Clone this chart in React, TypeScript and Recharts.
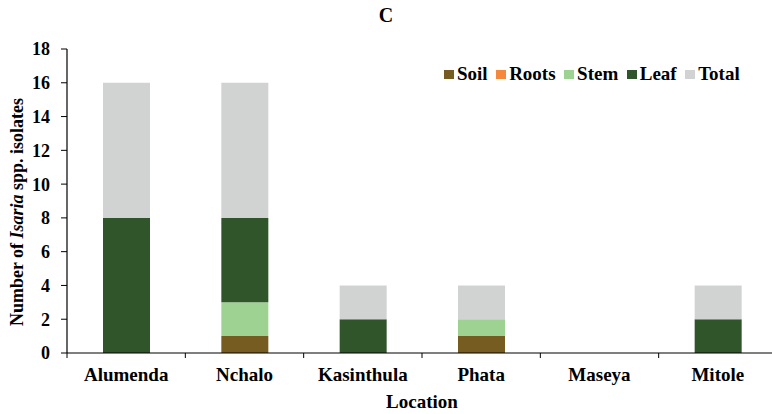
import React from "react";
import { BarChart, Bar, XAxis, YAxis, Legend } from "recharts";

const locations = ["Alumenda", "Nchalo", "Kasinthula", "Phata", "Maseya", "Mitole"];
const soil = [0, 1, 0, 1, 0, 0];
const roots = [0, 0, 0, 0, 0, 0];
const stem = [0, 2, 0, 1, 0, 0];
const leaf = [8, 5, 2, 0, 0, 2];
const total = [8, 8, 2, 2, 0, 2];
const yTicks = [0, 2, 4, 6, 8, 10, 12, 14, 16, 18];

const series = [
  { key: "Soil", color: "#765c21" },
  { key: "Roots", color: "#f4883c" },
  { key: "Stem", color: "#9ed293" },
  { key: "Leaf", color: "#30552b" },
  { key: "Total", color: "#d1d3d2" },
];

const data = locations.map((name, i) => ({
  name,
  Soil: soil[i],
  Roots: roots[i],
  Stem: stem[i],
  Leaf: leaf[i],
  Total: total[i],
}));

const FONT = "'Liberation Serif', 'Times New Roman', serif";
const CHART_W = 780;
const CHART_H = 414;
const LEFT = 67;
const RIGHT = 3;
const BAND = (CHART_W - LEFT - RIGHT) / locations.length;

// category ticks sit at the band boundaries, labels at band centres
const LocationTick = ({ x, y, payload }: any) => (
  <g>
    <line x1={x - BAND / 2} x2={x - BAND / 2} y1={353} y2={358} stroke="#000" />
    <text
      x={x}
      y={y + 20}
      textAnchor="middle"
      fontFamily={FONT}
      fontWeight="bold"
      fontSize={19}
      fill="#000"
    >
      {payload.value}
    </text>
  </g>
);

const YLabel = ({ viewBox }: any) => {
  const cx = 17;
  const cy = viewBox.y + viewBox.height / 2 + 11;
  return (
    <text
      x={cx}
      y={cy}
      transform={`rotate(-90, ${cx}, ${cy})`}
      textAnchor="middle"
      dominantBaseline="central"
      fontFamily={FONT}
      fontWeight="bold"
      fontSize={18}
      fill="#000"
    >
      Number of <tspan fontStyle="italic">Isaria</tspan> spp. isolates
    </text>
  );
};

const XLabel = ({ viewBox }: any) => (
  <text
    x={viewBox.x + viewBox.width / 2}
    y={viewBox.y + 55}
    textAnchor="middle"
    fontFamily={FONT}
    fontWeight="bold"
    fontSize={19}
    fill="#000"
  >
    Location
  </text>
);

const LegendContent = () => (
  <div style={{ display: "flex", alignItems: "center", fontFamily: FONT, fontWeight: "bold", fontSize: 19 }}>
    {series.map((s) => (
      <div key={s.key} style={{ display: "flex", alignItems: "center", marginRight: 8.5 }}>
        <span style={{ width: 10, height: 9, background: s.color, marginRight: 3, display: "inline-block" }} />
        <span>{s.key}</span>
      </div>
    ))}
  </div>
);

export default function App() {
  return (
    <div
      style={{
        position: "absolute",
        left: 0,
        top: 0,
        width: 772,
        height: 414,
        overflow: "hidden",
        background: "#fff",
      }}
    >
      <div
        style={{
          position: "absolute",
          left: 376,
          top: 3,
          width: 20,
          textAlign: "center",
          fontFamily: FONT,
          fontWeight: "bold",
          fontSize: 20,
          lineHeight: "24px",
        }}
      >
        C
      </div>
      <BarChart
        width={CHART_W}
        height={CHART_H}
        data={data}
        margin={{ top: 49, right: RIGHT, left: 0, bottom: 0 }}
        barSize={47}
      >
        <XAxis
          dataKey="name"
          height={61}
          axisLine={{ stroke: "#000", strokeWidth: 1.2 }}
          tickLine={false}
          tick={<LocationTick />}
          interval={0}
          label={<XLabel />}
        />
        <YAxis
          width={LEFT}
          domain={[0, 18]}
          ticks={yTicks}
          interval={0}
          axisLine={{ stroke: "#000", strokeWidth: 1.2 }}
          tickLine={{ stroke: "#000" }}
          tickSize={6}
          tickMargin={11}
          tick={{ fontFamily: FONT, fontWeight: "bold", fontSize: 18, fill: "#000" }}
          label={<YLabel />}
        />
        {/* middle alignment keeps the legend from reserving space above the plot */}
        <Legend
          verticalAlign="middle"
          content={<LegendContent />}
          wrapperStyle={{ position: "absolute", top: 63, left: 444, width: "auto" }}
        />
        {series.map((s) => (
          <Bar
            key={s.key}
            dataKey={s.key}
            stackId="a"
            fill={s.color}
            isAnimationActive={false}
          />
        ))}
      </BarChart>
    </div>
  );
}
